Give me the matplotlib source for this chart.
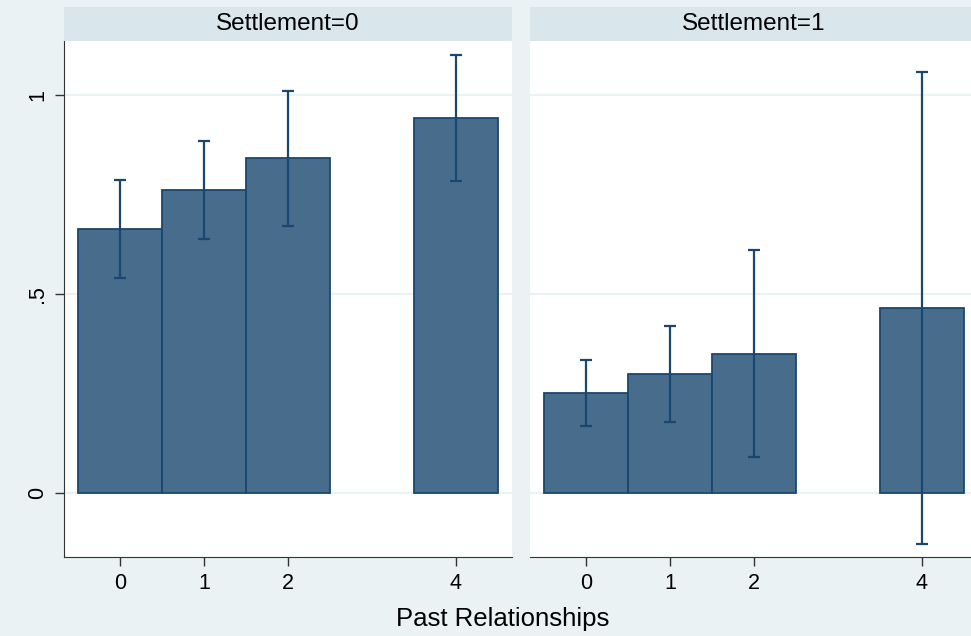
import numpy as np
import matplotlib
matplotlib.use('Agg')
import matplotlib.pyplot as plt

plt.rcParams['font.family'] = ['Liberation Sans', 'DejaVu Sans']

# 数据
past = [0, 1, 2, 4]
panels = ['Settlement=0', 'Settlement=1']
mean0 = [0.662, 0.761, 0.840, 0.941]
err0 = [0.123, 0.123, 0.169, 0.158]
mean1 = [0.251, 0.298, 0.350, 0.464]
err1 = [0.083, 0.121, 0.261, 0.592]
means = [mean0, mean1]
errs = [err0, err1]
yticks = [0, 0.5, 1]
yticklabels = ['0', '.5', '1']

W, H = 971, 636
bg = '#EAF2F3'
strip = '#D9E6EC'
fill = '#486C8C'
navy = '#1A476F'

fig = plt.figure(figsize=(W / 100, H / 100), dpi=100, facecolor=bg)

def px(x0, y0, x1, y1):
    return [x0 / W, 1 - y1 / H, (x1 - x0) / W, (y1 - y0) / H]

lefts = [64, 530]
for i in range(2):
    x0 = lefts[i]
    ax = fig.add_axes(px(x0, 41, x0 + 448, 557))
    ax.set_facecolor('white')
    ax.bar(past, means[i], width=1.0, color=fill, edgecolor=navy, linewidth=1.3, zorder=2)
    ax.errorbar(past, means[i], yerr=errs[i], fmt='none', ecolor=navy,
                elinewidth=1.6, capsize=4, capthick=1.6, zorder=3)
    ax.set_xlim(-0.667, 4.667)
    ax.set_ylim(-0.161, 1.135)
    ax.set_yticks(yticks)
    ax.grid(axis='y', color=bg, linewidth=1.5, zorder=0)
    ax.set_xticks(past)
    ax.set_xticklabels([str(p) for p in past], fontsize=15.5)
    ax.tick_params(axis='x', length=6.5, width=1, color='#333333', pad=5)
    for s in ['top', 'right']:
        ax.spines[s].set_visible(False)
    ax.spines['bottom'].set_color('#333333')
    if i == 0:
        ax.set_yticklabels(yticklabels, fontsize=15.5, rotation=90, va='center')
        ax.tick_params(axis='y', length=6.5, width=1, color='#333333', pad=5)
        ax.spines['left'].set_color('#333333')
    else:
        ax.spines['left'].set_visible(False)
        ax.tick_params(axis='y', length=0, labelleft=False)
    # 面板标题条
    hx = fig.add_axes(px(x0, 7, x0 + 448, 41))
    hx.set_facecolor(strip)
    hx.set_xticks([])
    hx.set_yticks([])
    for s in hx.spines.values():
        s.set_visible(False)
    hx.text(0.5, 0.5, panels[i], ha='center', va='center', fontsize=17.5,
            transform=hx.transAxes)

fig.text(503 / W, 1 - 619 / H, 'Past Relationships', ha='center', va='center', fontsize=18.5)

fig.savefig('out.png', dpi=100, facecolor=bg)
